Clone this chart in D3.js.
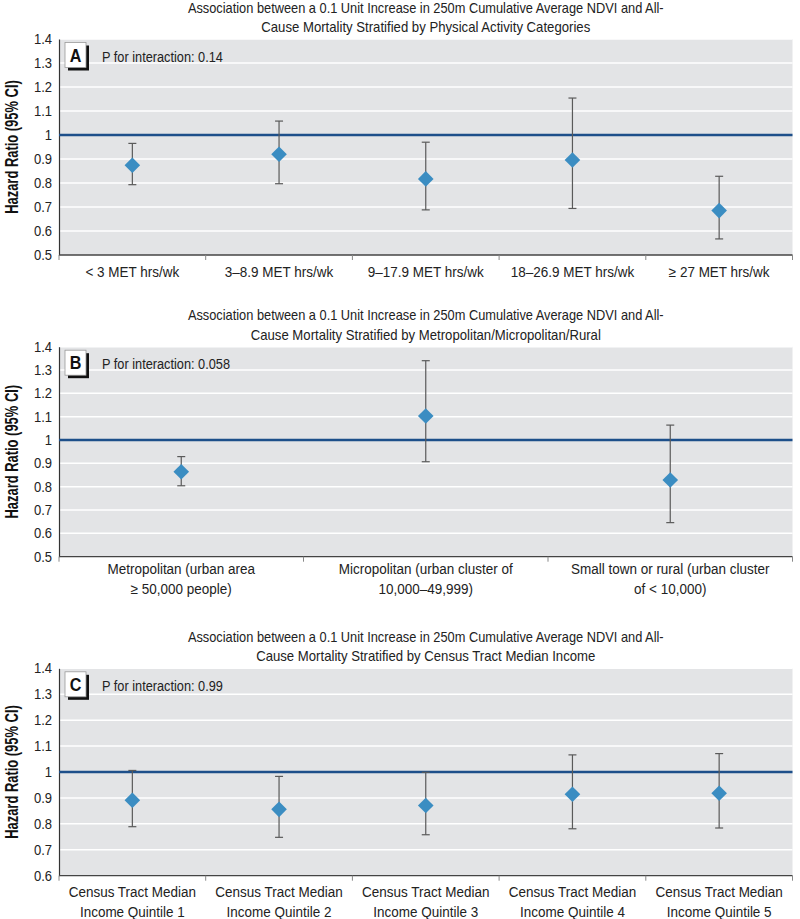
<!DOCTYPE html>
<html>
<head>
<meta charset="utf-8">
<script src="https://cdn.jsdelivr.net/npm/d3@7"></script>
<style>
  body { margin: 0; background: #fff; }
  svg { display: block; font-family: "Liberation Sans", Arial, sans-serif; }
</style>
</head>
<body>
<svg></svg>
<script>
const width = 800, height = 919;
const svg = d3.select("svg").attr("width", width).attr("height", height);

// panel A: physical activity
const catsA = ["< 3 MET hrs/wk", "3\u20138.9 MET hrs/wk", "9\u201317.9 MET hrs/wk", "18\u201326.9 MET hrs/wk", "\u2265 27 MET hrs/wk"];
const hrA = [0.874, 0.92, 0.817, 0.896, 0.685];
const lowA = [0.793, 0.797, 0.688, 0.694, 0.567];
const highA = [0.965, 1.058, 0.97, 1.154, 0.828];

// panel B: metropolitan / micropolitan / rural
const catsB = [["Metropolitan (urban area", "\u2265 50,000 people)"], ["Micropolitan (urban cluster of", "10,000\u201349,999)"], ["Small town or rural (urban cluster", "of < 10,000)"]];
const hrB = [0.864, 1.103, 0.829];
const lowB = [0.804, 0.907, 0.646];
const highB = [0.929, 1.34, 1.064];

// panel C: census tract income
const catsC = [["Census Tract Median", "Income Quintile 1"], ["Census Tract Median", "Income Quintile 2"], ["Census Tract Median", "Income Quintile 3"], ["Census Tract Median", "Income Quintile 4"], ["Census Tract Median", "Income Quintile 5"]];
const hrC = [0.891, 0.856, 0.871, 0.914, 0.918];
const lowC = [0.789, 0.748, 0.758, 0.781, 0.784];
const highC = [1.006, 0.983, 0.999, 1.066, 1.071];

const titleLine1 = "Association between a 0.1 Unit Increase in 250m Cumulative Average NDVI and All-";
const titlesLine2 = [
  "Cause Mortality Stratified by Physical Activity Categories",
  "Cause Mortality Stratified by Metropolitan/Micropolitan/Rural",
  "Cause Mortality Stratified by Census Tract Median Income"
];
const pTexts = ["P for interaction: 0.14", "P for interaction: 0.058", "P for interaction: 0.99"];
const letters = ["A", "B", "C"];

const yTicksA = [0.5, 0.6, 0.7, 0.8, 0.9, 1, 1.1, 1.2, 1.3, 1.4];
const yTicksC = [0.6, 0.7, 0.8, 0.9, 1, 1.1, 1.2, 1.3, 1.4];

const panels = [
  { cats: catsA, hr: hrA, low: lowA, high: highA, ticks: yTicksA, top: 39, bottom: 255 },
  { cats: catsB, hr: hrB, low: lowB, high: highB, ticks: yTicksA, top: 346.7, bottom: 556.7 },
  { cats: catsC, hr: hrC, low: lowC, high: highC, ticks: yTicksC, top: 668.3, bottom: 875.7 }
];

const left = 59, right = 792.5;
const SX = 0.93; // condensed look

// text helper: condensed horizontally around its anchor point
function label(parent, x, y, str, size, opts = {}) {
  const t = parent.append("text")
    .attr("transform", `translate(${x},${y}) scale(${opts.sx || SX},1)`)
    .attr("text-anchor", opts.anchor || "start")
    .attr("font-size", size)
    .attr("font-weight", opts.bold ? "bold" : null)
    .attr("fill", opts.fill || "#222");
  if (str != null) t.text(str);
  return t;
}

panels.forEach((p, i) => {
  const g = svg.append("g");
  const x = d3.scaleBand().domain(d3.range(p.cats.length)).range([left, right]);
  const y = d3.scaleLinear().domain(d3.extent(p.ticks)).range([p.bottom, p.top]);

  // background
  g.append("rect")
    .attr("x", left).attr("y", p.top)
    .attr("width", right - left).attr("height", p.bottom - p.top)
    .attr("fill", "#e3e4e6");

  // gridlines
  g.selectAll(".grid").data(p.ticks.filter(t => t !== 1 && t !== p.ticks[0])).join("line")
    .attr("x1", left).attr("x2", right)
    .attr("y1", d => y(d)).attr("y2", d => y(d))
    .attr("stroke", "#fff").attr("stroke-width", 1.5);

  // y axis
  const yAxis = g.append("g").attr("transform", `translate(${left},0)`)
    .call(d3.axisLeft(y).tickValues(p.ticks).tickSize(0).tickPadding(7).tickFormat(d3.format("")));
  yAxis.select(".domain").attr("stroke", "#333").attr("stroke-width", 1.2);
  yAxis.selectAll("text").attr("font-size", 14).attr("fill", "#222")
    .attr("font-family", "inherit")
    .attr("x", -7 / SX)
    .attr("transform", `scale(${SX},1)`);

  // x axis
  const xAxisG = g.append("g").attr("transform", `translate(0,${p.bottom})`);
  xAxisG.append("line").attr("x1", left).attr("x2", right)
    .attr("stroke", "#444").attr("stroke-width", 1.3);
  const bounds = d3.range(p.cats.length + 1).map(k => k < p.cats.length ? x(k) : right);
  xAxisG.selectAll(".tk").data(bounds).join("line")
    .attr("x1", d => d).attr("x2", d => d).attr("y1", 0).attr("y2", 5)
    .attr("stroke", "#888").attr("stroke-width", 1);

  p.cats.forEach((d, k) => {
    const lines = Array.isArray(d) ? d : [d];
    const y0 = lines.length === 1 ? 22 : (i === 1 ? 17 : 21);
    const t = label(xAxisG, x(k) + x.bandwidth() / 2, y0, null, 14.5, { anchor: "middle" });
    lines.forEach((ln, li) => {
      t.append("tspan").attr("x", 0).attr("y", li * 20).text(ln);
    });
  });

  // reference line at 1
  g.append("line")
    .attr("x1", left).attr("x2", right)
    .attr("y1", y(1)).attr("y2", y(1))
    .attr("stroke", "#1d4f8a").attr("stroke-width", 2.5);

  // error bars
  const cx = k => x(k) + x.bandwidth() / 2;
  const eb = g.append("g").attr("stroke", "#5a5a5a").attr("stroke-width", 1.2);
  p.hr.forEach((v, k) => {
    eb.append("line").attr("x1", cx(k)).attr("x2", cx(k)).attr("y1", y(p.low[k])).attr("y2", y(p.high[k]));
    eb.append("line").attr("x1", cx(k) - 4).attr("x2", cx(k) + 4).attr("y1", y(p.low[k])).attr("y2", y(p.low[k]));
    eb.append("line").attr("x1", cx(k) - 4).attr("x2", cx(k) + 4).attr("y1", y(p.high[k])).attr("y2", y(p.high[k]));
  });

  // diamonds
  g.selectAll(".pt").data(p.hr).join("path")
    .attr("transform", (d, k) => `translate(${cx(k)},${y(d)})`)
    .attr("d", "M0,-7.8L7.8,0L0,7.8L-7.8,0Z")
    .attr("fill", "#3b8dc2");

  // panel letter box
  const bx = 65, by = p.top + 3.5;
  g.append("rect").attr("x", bx + 3).attr("y", by + 3).attr("width", 21).attr("height", 25).attr("fill", "#111");
  g.append("rect").attr("x", bx).attr("y", by).attr("width", 21).attr("height", 25)
    .attr("fill", "#fff").attr("stroke", "#999").attr("stroke-width", 0.8);
  label(g, bx + 10.5, by + 19, letters[i], 19, { anchor: "middle", bold: true, fill: "#111", sx: 0.85 });

  label(g, 102, by + 19, pTexts[i], 14.5, { sx: 0.88 });

  // titles
  const tc = (left + right) / 2;
  label(g, tc, p.top - 26.5, titleLine1, 14, { anchor: "middle", sx: 0.915 });
  label(g, tc, p.top - 7, titlesLine2[i], 14, { anchor: "middle", sx: 0.94 });

  // y label
  g.append("text")
    .attr("transform", `translate(18,${(p.top + p.bottom) / 2}) rotate(-90) scale(0.74,1)`)
    .attr("text-anchor", "middle")
    .attr("font-size", 17.5).attr("font-weight", "bold").attr("fill", "#111")
    .text("Hazard Ratio (95% CI)");
});
</script>
</body>
</html>
